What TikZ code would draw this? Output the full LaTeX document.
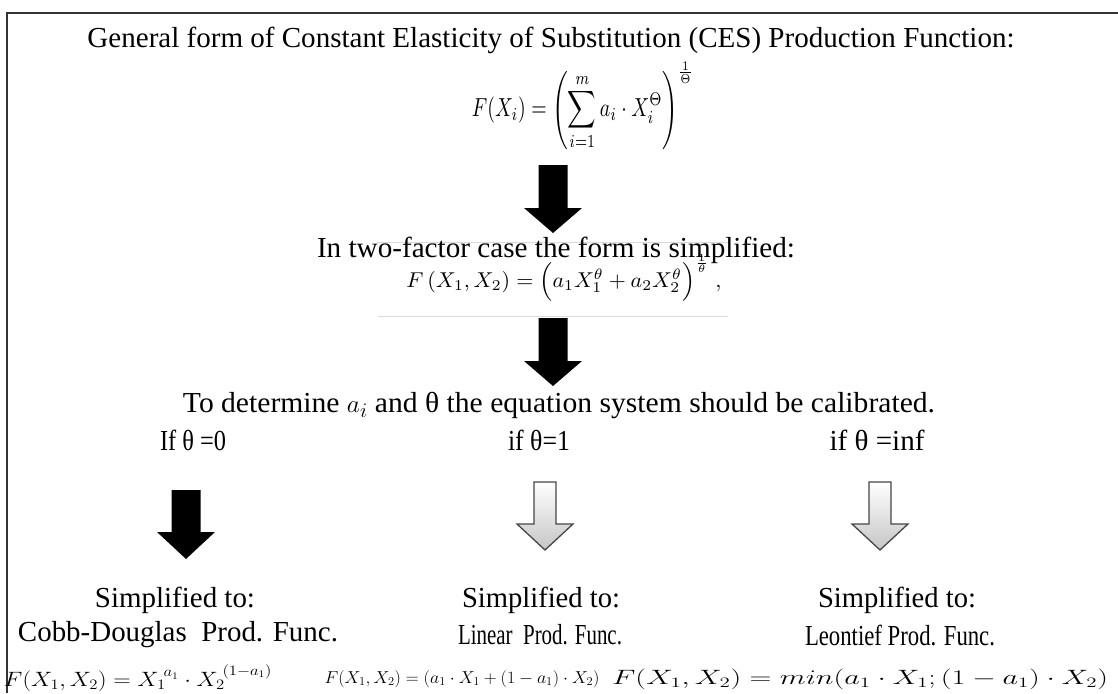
\documentclass[tikz,border=0pt]{standalone}
\usepackage{fontspec}
\usepackage{graphicx}
\setmainfont{Liberation Serif}
\newcommand\fitw[2]{\resizebox{#1pt}{\height}{#2}}
\newcommand\fitwh[3]{\resizebox*{#1pt}{#2pt}{#3}}
% cx, top, headbase, tip, halfshaft, halfhead, style
\newcommand\downblock[7]{%
  \draw[#7] ({#1-#5},#2) -- ({#1+#5},#2) -- ({#1+#5},#3) -- ({#1+#6},#3) -- (#1,#4)
    -- ({#1-#6},#3) -- ({#1-#5},#3) -- cycle;}
\tikzset{
  txt/.style={inner sep=0pt, font=\fontsize{29}{34}\selectfont},
  frm/.style={inner sep=0pt, font=\fontsize{20}{24}\selectfont},
  frms/.style={inner sep=0pt, font=\fontsize{17}{20}\selectfont},
  blackarrow/.style={fill=black, draw=none},
  grayarrow/.style={top color=white, bottom color=gray!45, draw=gray!55!black, line width=1.3pt},
  frameline/.style={line width=2pt, draw=black!80},
  faint/.style={line width=0.8pt, draw=gray!28}
}
\begin{document}
\begin{tikzpicture}[x=1pt,y=-1pt]
\useasboundingbox (0,0) rectangle (1118,693);
\fill[white] (0,0) rectangle (1118,693);
\draw[frameline] (7,693) -- (7,13) -- (1118,13);

% top
\node[txt] (title) at (551,40) {\fitw{927}{General form of Constant Elasticity of Substitution (CES) Production Function:}};
\node[inner sep=0pt] (ces) at (583,106) {\fitwh{222}{88}{$\displaystyle F(X_i)=\left(\sum_{i=1}^{m} a_i\cdot X_i^{\Theta}\right)^{\frac{1}{\Theta}}$}};
\downblock{553}{165}{208}{233}{14.5}{29}{blackarrow}

\draw[faint] (377,242) -- (728,242);
\draw[faint] (378,316) -- (728,316);
\node[txt] (two) at (556,250) {\fitw{478}{In two-factor case the form is simplified:}};
\node[inner sep=0pt] (ces2) at (564,278) {\fitwh{315}{46}{$F\,(X_1,X_2)=\Bigl(a_1X_1^{\theta}+a_2X_2^{\theta}\Bigr)^{\frac{1}{\theta}}\;,$}};
\downblock{553}{318}{361}{386}{14.5}{29}{blackarrow}

\node[txt] (det) at (559,405) {\fitw{752}{To determine $a_i$ and θ the equation system should be calibrated.}};
\node[txt] (c1) at (193,440) {\fitw{66}{If θ =0}};
\node[txt] (c2) at (539,440) {\fitw{62}{if θ=1}};
\node[txt] (c3) at (877,440) {\fitw{95}{if θ =inf}};

\downblock{186}{490}{532}{559}{14.5}{29}{blackarrow}
\downblock{545}{482}{524}{550}{11}{28}{grayarrow}
\downblock{880}{482}{524}{550}{11}{28}{grayarrow}

\node[txt] (s1) at (175,600) {\fitw{160}{Simplified to:}};
\node[txt] (s2) at (541,600) {\fitw{158}{Simplified to:}};
\node[txt] (s3) at (897,600) {\fitw{158}{Simplified to:}};
\node[txt] (p1) at (178,635) {\fitw{320}{Cobb-Douglas~ Prod. Func.}};
\node[txt] (p2) at (540,635) {\fitw{164}{Linear~ Prod. Func.}};
\node[txt] (p3) at (900,635) {\fitw{190}{Leontief Prod. Func.}};

\node[frm] (f1) at (138,678) {\fitw{268}{$F(X_1,X_2)=X_1^{\;a_1}\cdot X_2^{\;(1-a_1)}$}};
\node[frms] (f2) at (462,679) {\fitw{275}{$F(X_1,X_2)=(a_1\cdot X_1+(1-a_1)\cdot X_2)$}};
\node[frm] (f3) at (860,679) {\fitw{496}{$F(X_1,X_2)=min(a_1\cdot X_1;(1-a_1)\cdot X_2)$}};
\end{tikzpicture}
\end{document}
